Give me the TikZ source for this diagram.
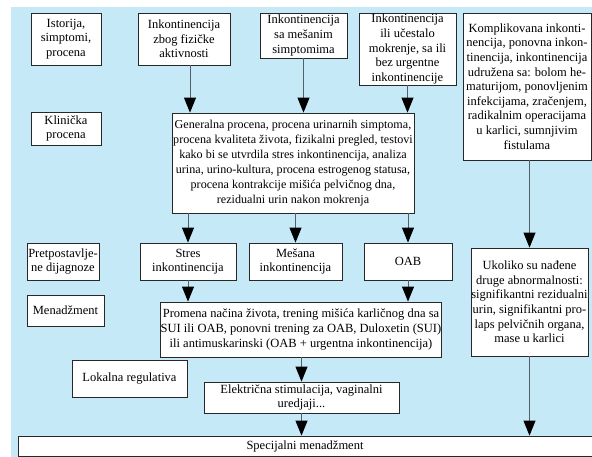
\documentclass[tikz,border=0pt]{standalone}
\usepackage{fontspec}
\setmainfont{Liberation Serif}
\usetikzlibrary{arrows.meta}
\definecolor{bgblue}{RGB}{198,233,248}
\definecolor{edgecol}{RGB}{40,40,40}
\definecolor{wire}{RGB}{85,95,105}
% box: name, centre x, centre y, width, height, text
\newcommand\bx[6]{\node[box,minimum width=#4pt,minimum height=#5pt] (#1) at (#2,#3) {#6};}
\begin{document}
\begin{tikzpicture}[x=1pt,y=-1pt,
  box/.style={draw=edgecol, line width=0.8pt, fill=white, inner sep=0pt, align=center,
    font=\fontsize{12.5}{14.6}\selectfont},
  arr/.style={draw=wire, line width=0.9pt, -{Triangle[length=15pt,width=12pt,color=black]}}]
\useasboundingbox (0,0) rectangle (592,457);
\fill[bgblue] (11,7) rectangle (592,457);

% row labels
\bx{hist}{66}{39}{70}{52}{Istorija,\\simptomi,\\procena}
\bx{klin}{66}{128.5}{70}{33}{Klinička\\procena}
\bx{dijag}{63}{261.5}{72}{37}{Pretpostavlje-\\ne dijagnoze}
\bx{menad}{65.5}{310.5}{77}{31}{Menadžment}
\bx{lokal}{129.5}{378.5}{115}{37}{Lokalna regulativa}

% presenting complaints
\bx{zbog}{184}{39}{92}{52}{Inkontinencija\\zbog fizičke\\aktivnosti}
\bx{mesan}{303.5}{35.5}{87}{45}{Inkontinencija\\sa mešanim\\simptomima}
\bx{ucest}{407.5}{49}{97}{72}{Inkontinencija\\ili učestalo\\mokrenje, sa ili\\bez urgentne\\inkontinencije}
\bx{kompl}{527}{86.5}{128}{147}{Komplikovana inkonti-\\nencija, ponovna inkon-\\tinencija, inkontinencija\\udružena sa: bolom he-\\maturijom, ponovljenim\\infekcijama, zračenjem,\\radikalnim operacijama\\u karlici, sumnjivim\\fistulama}

% assessment
\node[box,minimum width=242pt,minimum height=100pt,font=\fontsize{12.1}{15}\selectfont] (gen) at (293,163)
  {Generalna procena, procena urinarnih simptoma,\\procena kvaliteta života, fizikalni pregled, testovi\\kako bi se utvrdila stres inkontinencija, analiza\\urina, urino-kultura, procena estrogenog statusa,\\procena kontrakcije mišića pelvičnog dna,\\rezidualni urin nakon mokrenja};

% diagnoses
\bx{stres}{188}{261.5}{96}{37}{Stres\\inkontinencija}
\bx{mesana}{295.5}{261.5}{93}{37}{Mešana\\inkontinencija}
\bx{oab}{408}{261.5}{88}{37}{OAB}
\bx{ukol}{529.5}{302}{117}{108}{Ukoliko su nađene\\druge abnormalnosti:\\signifikantni rezidualni\\urin, signifikantni pro-\\laps pelvičnih organa,\\mase u karlici}

% management
\bx{prom}{301}{329.5}{274}{55}{Promena načina života, trening mišića karličnog dna sa\\SUI ili OAB, ponovni trening za OAB, Duloxetin (SUI)\\ili antimuskarinski (OAB + urgentna inkontinencija)}
\bx{elek}{301.5}{397.5}{195}{31}{Električna stimulacija, vaginalni\\uredjaji...}
\bx{spec}{305}{446}{574}{20}{Specijalni menadžment}

% connectors
\draw[arr] ([xshift=6pt]zbog.south) -- ([xshift=6pt]zbog.south |- gen.north);
\draw[arr] (mesan.south) -- (mesan.south |- gen.north);
\draw[arr] (ucest.south) -- (ucest.south |- gen.north);
\draw[arr] (gen.south -| stres.north) -- (stres.north);
\draw[arr] (gen.south -| mesana.north) -- (mesana.north);
\draw[arr] (gen.south -| oab.north) -- (oab.north);
\draw[arr] (stres.south) -- (stres.south |- prom.north);
\draw[arr] (oab.south) -- (oab.south |- prom.north);
\draw[arr] (prom.south -| elek.north) -- (elek.north);
\draw[arr] (elek.south) -- (elek.south |- spec.north);
\draw[arr] (kompl.south -| ukol.north) -- (ukol.north);
\draw[arr] (ukol.south) -- (ukol.south |- spec.north);
\end{tikzpicture}
\end{document}
